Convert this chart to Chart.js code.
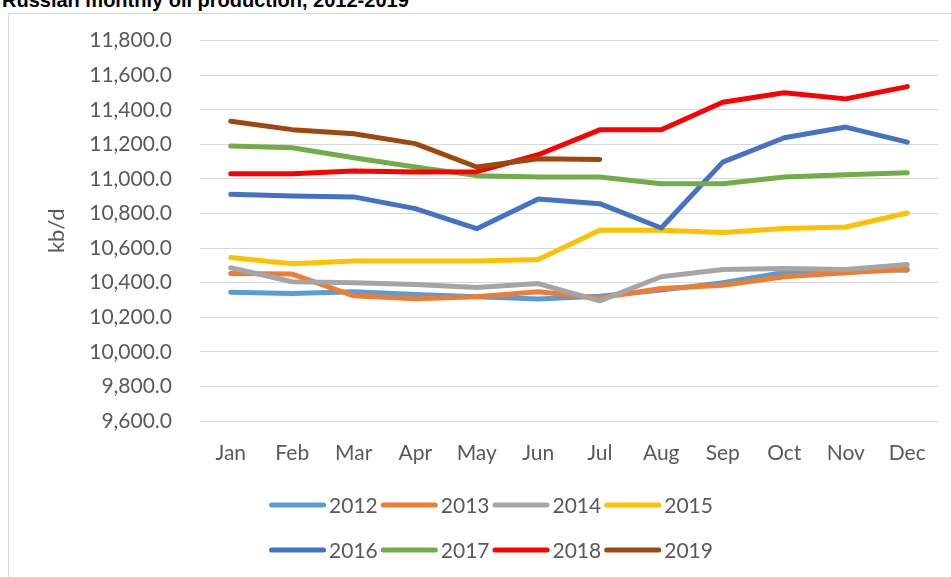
<!DOCTYPE html>
<html lang="en">
<head>
<meta charset="UTF-8">
<title>Russian monthly oil production, 2012-2019</title>
<script src="https://cdn.jsdelivr.net/npm/chart.js"></script>
<style>
    body { margin: 0; background: #fff; overflow: hidden; }
    #frame { position: absolute; left: 8px; top: 13px; width: 990px; height: 620px; border: 1px solid #d9d9d9; }
    #title { position: absolute; left: 2px; top: -10px; font: bold 20px "Liberation Sans", Arial, sans-serif; line-height: 20px; color: #000; white-space: nowrap; }
    #chartCanvas { position: absolute; left: 0; top: 0; }
</style>
</head>
<body>

<div id="frame"></div>
<div id="title">Russian monthly oil production, 2012-2019</div>
<canvas id="chartCanvas" width="951" height="577"></canvas>

<script>
    // data (kb/d)
    const months = ["Jan", "Feb", "Mar", "Apr", "May", "Jun", "Jul", "Aug", "Sep", "Oct", "Nov", "Dec"];
    const years = ["2012", "2013", "2014", "2015", "2016", "2017", "2018", "2019"];
    const yTicks = { min: 9600, max: 11800, step: 200 };

    const prod2012 = [10345, 10337, 10347, 10332, 10318, 10305, 10322, 10357, 10400, 10459, 10476, 10472];
    const prod2013 = [10453, 10450, 10324, 10307, 10318, 10347, 10312, 10366, 10385, 10434, 10457, 10478];
    const prod2014 = [10486, 10405, 10399, 10390, 10372, 10395, 10295, 10434, 10476, 10482, 10476, 10505];
    const prod2015 = [10545, 10509, 10526, 10526, 10526, 10534, 10703, 10703, 10690, 10713, 10722, 10803];
    const prod2016 = [10911, 10901, 10896, 10828, 10712, 10884, 10857, 10716, 11097, 11238, 11300, 11213];
    const prod2017 = [11190, 11180, 11123, 11069, 11019, 11011, 11011, 10972, 10972, 11011, 11024, 11036];
    const prod2018 = [11030, 11030, 11046, 11040, 11042, 11140, 11284, 11284, 11444, 11498, 11463, 11534];
    const prod2019 = [11334, 11285, 11261, 11204, 11069, 11117, 11113, null, null, null, null, null];

    const series = [prod2012, prod2013, prod2014, prod2015, prod2016, prod2017, prod2018, prod2019];
    const colors = ["#5B9BD5", "#ED7D31", "#A5A5A5", "#FFC000", "#4472C4", "#70AD47", "#FF0000", "#9E480E"];

    const textColor = "#595959";
    const baseFont = { family: "Lato", size: 21 };

    // legend in two rows of four, like the Excel original
    const legendRows = {
        id: "legendRows",
        afterDraw(chart) {
            let ctx = chart.ctx;
            let sets = chart.data.datasets;
            let lineLen = 57, gap = 3, space = 3, perRow = 4;
            ctx.save();
            ctx.font = baseFont.size + "px " + baseFont.family;
            ctx.textBaseline = "middle";
            ctx.fillStyle = textColor;
            ctx.lineCap = "round";
            ctx.lineWidth = 5;
            for (let r = 0; r * perRow < sets.length; r++) {
                let items = sets.slice(r * perRow, r * perRow + perRow);
                let widths = items.map(d => lineLen + gap + ctx.measureText(d.label).width);
                let total = widths.reduce((a, b) => a + b, 0) + space * (items.length - 1);
                let x = 491 - total / 2;
                let y = 505 + r * 45;
                items.forEach((d, i) => {
                    ctx.strokeStyle = d.borderColor;
                    ctx.beginPath();
                    ctx.moveTo(x + 2.5, y);
                    ctx.lineTo(x + lineLen - 2.5, y);
                    ctx.stroke();
                    ctx.fillText(d.label, x + lineLen + gap, y + 1);
                    x += widths[i] + space;
                });
            }
            ctx.restore();
        }
    };

    function dibujar() {
        let datasets = years.map((y, i) => ({
            label: y,
            data: series[i],
            borderColor: colors[i],
            backgroundColor: colors[i],
            order: years.length - i,
            fill: false,
            spanGaps: false
        }));

        let ctx = document.getElementById("chartCanvas").getContext("2d");
        new Chart(ctx, {
            type: "line",
            data: { labels: months, datasets: datasets },
            plugins: [legendRows],
            options: {
                responsive: false,
                animation: false,
                devicePixelRatio: 1,
                layout: { padding: { top: 40, right: 13, left: 0, bottom: 0 } },
                plugins: { legend: { display: false }, tooltip: { enabled: false } },
                elements: {
                    point: { radius: 0 },
                    line: { borderWidth: 5, borderCapStyle: "round", borderJoinStyle: "round", tension: 0 }
                },
                scales: {
                    x: {
                        offset: true,
                        grid: { display: false },
                        border: { display: false },
                        ticks: { color: textColor, font: baseFont, padding: 12, maxRotation: 0, autoSkip: false },
                        afterFit(s) { s.height = 156; }
                    },
                    y: {
                        min: yTicks.min,
                        max: yTicks.max,
                        grid: { color: "#d9d9d9", drawTicks: false },
                        border: { display: false },
                        ticks: {
                            stepSize: yTicks.step,
                            color: textColor,
                            font: baseFont,
                            padding: 28,
                            callback: v => v.toLocaleString("en-US", { minimumFractionDigits: 1, maximumFractionDigits: 1 })
                        },
                        title: { display: true, text: "kb/d", color: textColor, font: { family: "Lato", size: 22 }, padding: { top: 44, bottom: 0 } },
                        afterFit(s) { s.width = 200; }
                    }
                }
            }
        });
    }

    document.fonts.load("21px Lato").then(dibujar, dibujar);
</script>

</body>
</html>
